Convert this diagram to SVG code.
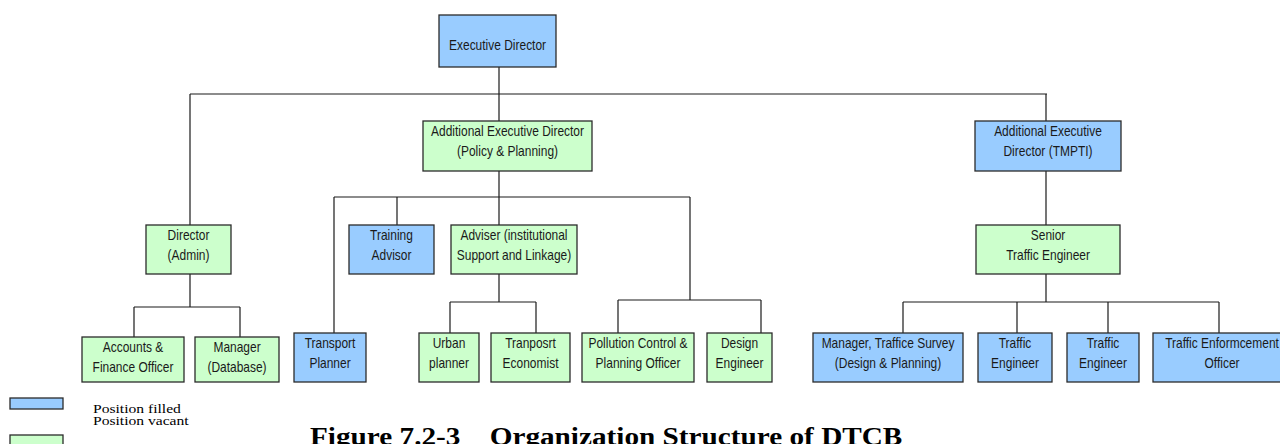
<svg xmlns="http://www.w3.org/2000/svg" width="1280" height="444" viewBox="0 0 1280 444">
  <style>
    .box { stroke: #2b2b2b; stroke-width: 1.3; }
    .filled { fill: #99ccff; }
    .vacant { fill: #ccffcc; }
    /* narrow sans labels: regular sans squeezed horizontally about each label's own centre */
    .t { font-family: "Liberation Sans", Arial, sans-serif; font-size: 14px; fill: #1a1a1a; text-anchor: middle;
         transform-box: fill-box; transform-origin: center; transform: scaleX(0.855); }
    .conn line { stroke: #1a1a1a; stroke-width: 1.2; }
    /* serif captions are set slightly wide, anchored at their left edge */
    .legend { font-family: "Liberation Serif", "Times New Roman", serif; font-size: 13px; fill: #000;
              transform-box: fill-box; transform-origin: left center; transform: scaleX(1.2); }
    .title { font-family: "Liberation Serif", "Times New Roman", serif; font-size: 25px; font-weight: bold; fill: #000;
             transform-box: fill-box; transform-origin: left center; transform: scaleX(1.17); }
  </style>
  <rect width="1280" height="444" fill="#ffffff"/>

  <!-- reporting lines -->
  <g id="connectors" class="conn">
    <line x1="499" y1="67" x2="499" y2="121"/>
    <line x1="190" y1="94" x2="1047" y2="94"/>
    <line x1="190" y1="94" x2="190" y2="225"/>
    <line x1="1046" y1="94" x2="1046" y2="121"/>
    <!-- policy & planning wing -->
    <line x1="499" y1="171" x2="499" y2="225"/>
    <line x1="334" y1="197" x2="690" y2="197"/>
    <line x1="334" y1="197" x2="334" y2="333"/>
    <line x1="397" y1="197" x2="397" y2="225"/>
    <line x1="690" y1="197" x2="690" y2="300"/>
    <line x1="618" y1="300" x2="761" y2="300"/>
    <line x1="618" y1="300" x2="618" y2="333"/>
    <line x1="761" y1="300" x2="761" y2="333"/>
    <line x1="499" y1="274" x2="499" y2="302"/>
    <line x1="450" y1="302" x2="536" y2="302"/>
    <line x1="450" y1="302" x2="450" y2="333"/>
    <line x1="536" y1="302" x2="536" y2="333"/>
    <!-- admin wing -->
    <line x1="190" y1="274" x2="190" y2="307"/>
    <line x1="134" y1="307" x2="240" y2="307"/>
    <line x1="134" y1="307" x2="134" y2="337"/>
    <line x1="240" y1="307" x2="240" y2="337"/>
    <!-- TMPTI wing -->
    <line x1="1046" y1="171" x2="1046" y2="225"/>
    <line x1="1046" y1="274" x2="1046" y2="302"/>
    <line x1="903" y1="302" x2="1219" y2="302"/>
    <line x1="903" y1="302" x2="903" y2="333"/>
    <line x1="1017" y1="302" x2="1017" y2="333"/>
    <line x1="1108" y1="302" x2="1108" y2="333"/>
    <line x1="1219" y1="302" x2="1219" y2="333"/>
  </g>

  <g id="executive-director">
    <rect class="box filled" x="439" y="15" width="117" height="52"/>
    <text class="t" x="497.5" y="50">Executive Director</text>
  </g>
  <g id="aed-policy-planning">
    <rect class="box vacant" x="423" y="121" width="169" height="50"/>
    <text class="t" x="507.5" y="136">Additional Executive Director</text>
    <text class="t" x="507.5" y="156">(Policy &amp; Planning)</text>
  </g>
  <g id="aed-tmpti">
    <rect class="box filled" x="975" y="121" width="146" height="50"/>
    <text class="t" x="1048" y="136">Additional Executive</text>
    <text class="t" x="1048" y="156">Director (TMPTI)</text>
  </g>
  <g id="director-admin">
    <rect class="box vacant" x="146" y="225" width="85" height="49"/>
    <text class="t" x="188.5" y="240">Director</text>
    <text class="t" x="188.5" y="260">(Admin)</text>
  </g>
  <g id="training-advisor">
    <rect class="box filled" x="349" y="225" width="85" height="49"/>
    <text class="t" x="391.5" y="240">Training</text>
    <text class="t" x="391.5" y="260">Advisor</text>
  </g>
  <g id="adviser">
    <rect class="box vacant" x="451" y="225" width="126" height="49"/>
    <text class="t" x="514" y="240">Adviser (institutional</text>
    <text class="t" x="514" y="260">Support and Linkage)</text>
  </g>
  <g id="senior-traffic-engineer">
    <rect class="box vacant" x="976" y="225" width="144" height="49"/>
    <text class="t" x="1048" y="240">Senior</text>
    <text class="t" x="1048" y="260">Traffic Engineer</text>
  </g>
  <g id="accounts-finance">
    <rect class="box vacant" x="82" y="337" width="102" height="45"/>
    <text class="t" x="133" y="352">Accounts &amp;</text>
    <text class="t" x="133" y="372">Finance Officer</text>
  </g>
  <g id="manager-database">
    <rect class="box vacant" x="195" y="337" width="84" height="45"/>
    <text class="t" x="237" y="352">Manager</text>
    <text class="t" x="237" y="372">(Database)</text>
  </g>
  <g id="transport-planner">
    <rect class="box filled" x="294" y="333" width="72" height="49"/>
    <text class="t" x="330" y="348">Transport</text>
    <text class="t" x="330" y="368">Planner</text>
  </g>
  <g id="urban-planner">
    <rect class="box vacant" x="419" y="333" width="60" height="49"/>
    <text class="t" x="449" y="348">Urban</text>
    <text class="t" x="449" y="368">planner</text>
  </g>
  <g id="transport-economist">
    <rect class="box vacant" x="491" y="333" width="79" height="49"/>
    <text class="t" x="530.5" y="348">Tranposrt</text>
    <text class="t" x="530.5" y="368">Economist</text>
  </g>
  <g id="pollution-control">
    <rect class="box vacant" x="582" y="333" width="112" height="49"/>
    <text class="t" x="638" y="348">Pollution Control &amp;</text>
    <text class="t" x="638" y="368">Planning Officer</text>
  </g>
  <g id="design-engineer">
    <rect class="box vacant" x="707" y="333" width="65" height="49"/>
    <text class="t" x="739.5" y="348">Design</text>
    <text class="t" x="739.5" y="368">Engineer</text>
  </g>
  <g id="manager-traffic-survey">
    <rect class="box filled" x="813" y="333" width="150" height="49"/>
    <text class="t" x="888" y="348">Manager, Traffice Survey</text>
    <text class="t" x="888" y="368">(Design &amp; Planning)</text>
  </g>
  <g id="traffic-engineer-1">
    <rect class="box filled" x="978" y="333" width="74" height="49"/>
    <text class="t" x="1015" y="348">Traffic</text>
    <text class="t" x="1015" y="368">Engineer</text>
  </g>
  <g id="traffic-engineer-2">
    <rect class="box filled" x="1067" y="333" width="72" height="49"/>
    <text class="t" x="1103" y="348">Traffic</text>
    <text class="t" x="1103" y="368">Engineer</text>
  </g>
  <g id="traffic-enforcement">
    <rect class="box filled" x="1153" y="333" width="138" height="49"/>
    <text class="t" x="1222" y="348">Traffic Enformcement</text>
    <text class="t" x="1222" y="368">Officer</text>
  </g>

  <!-- legend -->
  <g id="legend">
    <rect class="box filled" x="10" y="398" width="53" height="11"/>
    <rect class="box vacant" x="10" y="435" width="53" height="14"/>
    <text class="legend" x="93" y="413">Position filled</text>
    <text class="legend" x="93" y="425">Position vacant</text>
  </g>

  <text class="title" x="310" y="445" xml:space="preserve">Figure 7.2-3    Organization Structure of DTCB</text>
</svg>
